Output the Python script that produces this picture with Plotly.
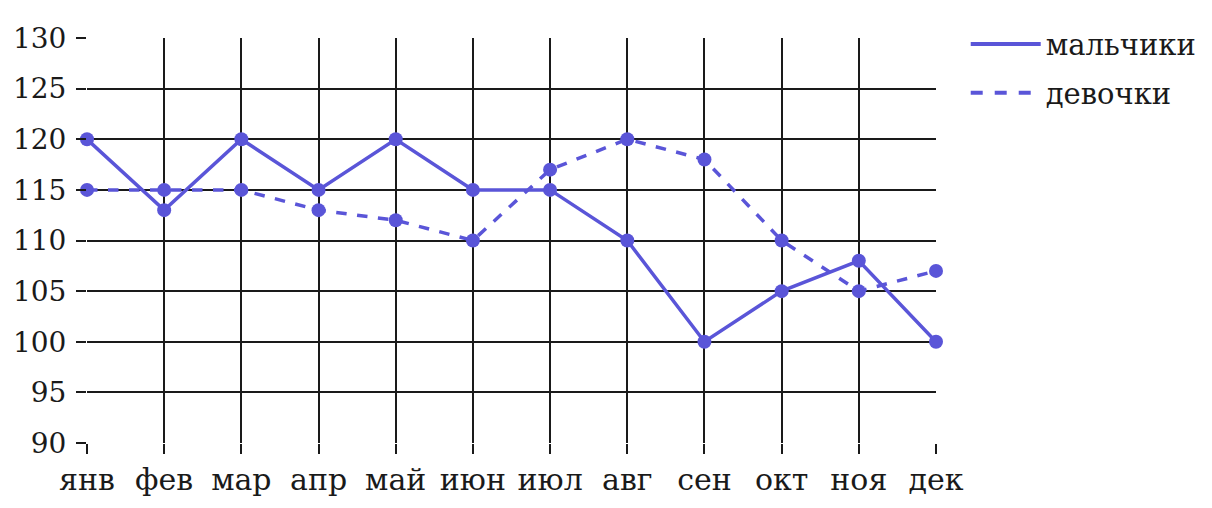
import plotly.graph_objects as go

months = ["янв", "фев", "мар", "апр", "май", "июн", "июл", "авг", "сен", "окт", "ноя", "дек"]
boys = [120, 113, 120, 115, 120, 115, 115, 110, 100, 105, 108, 100]
girls = [115, 115, 115, 113, 112, 110, 117, 120, 118, 110, 105, 107]
y_ticks = [90, 95, 100, 105, 110, 115, 120, 125, 130]

color = "#5a55d8"
font = "DejaVu Serif, serif"

fig = go.Figure()
fig.add_scatter(
    x=months, y=boys, mode="lines+markers", showlegend=False, cliponaxis=False,
    line=dict(color=color, width=3.5), marker=dict(size=14, color=color),
)
fig.add_scatter(
    x=months, y=girls, mode="lines+markers", showlegend=False, cliponaxis=False,
    line=dict(color=color, width=3.5, dash="dash"), marker=dict(size=14, color=color),
)
# legend entries: lines only
fig.add_scatter(x=[None], y=[None], name="мальчики", mode="lines", legendgroup="a",
                line=dict(color=color, width=4))
fig.add_scatter(x=[None], y=[None], name="девочки", mode="lines", legendgroup="b",
                line=dict(color=color, width=4, dash="dash"))

fig.update_layout(
    width=1212, height=508,
    margin=dict(l=79, r=284, t=29, b=73),
    plot_bgcolor="white", paper_bgcolor="white",
    font=dict(family=font, size=30, color="#1a1a1a"),
    legend=dict(x=1.035, y=1.045, xanchor="left", yanchor="top",
                font=dict(size=29), itemwidth=70, tracegroupgap=8),
)
fig.update_xaxes(
    type="category", range=[0, 11], showgrid=True, gridcolor="#1a1a1a", gridwidth=2,
    ticks="outside", ticklen=10, tickwidth=2, tickcolor="#1a1a1a",
    showline=False, zeroline=False, automargin=False,
)
fig.update_yaxes(
    range=[90, 130], tickvals=y_ticks, showgrid=True, gridcolor="#1a1a1a", gridwidth=2,
    ticks="outside", ticklen=10, tickwidth=2, tickcolor="#1a1a1a",
    showline=False, zeroline=False, automargin=False, ticklabelstandoff=4,
    tickfont=dict(size=28),
)

fig.write_html("out.html")
